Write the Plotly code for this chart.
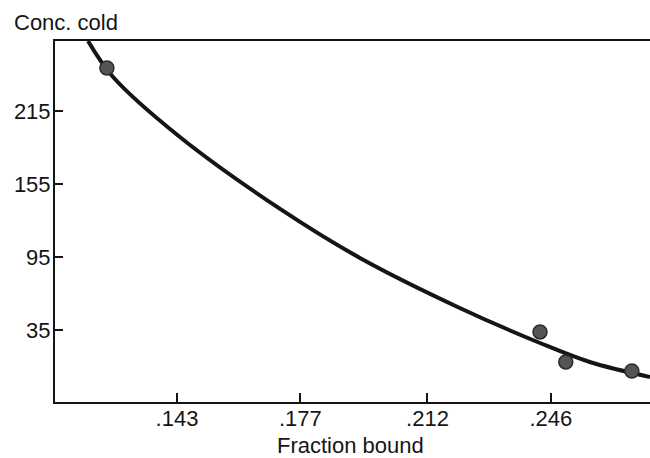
import plotly.graph_objects as go

# Observed data points (Fraction bound, Conc. cold)
point_x = [0.1237, 0.2430, 0.2501, 0.2683]
point_y = [250.3, 33.4, 8.7, 1.3]

# Fitted curve at several positions
curve_x = [0.1185, 0.1254, 0.1438, 0.1714, 0.1934, 0.2209, 0.2430, 0.2567, 0.2733]
curve_y = [272.5, 242.9, 193.6, 134.5, 94.2, 53.1, 24.3, 8.7, -3.6]

x_tick_vals = [0.143, 0.177, 0.212, 0.246]
x_tick_text = [".143", ".177", ".212", ".246"]
y_tick_vals = [35, 95, 155, 215]
y_tick_text = ["35", "95", "155", "215"]

font_family = "Liberation Sans, Arial, Helvetica, sans-serif"
ink = "#151515"

W, H = 650, 458
ML, MR, MT, MB = 55, 0, 41, 56
PW, PH = W - ML - MR, H - MT - MB

fig = go.Figure()
fig.add_trace(go.Scatter(
    x=curve_x, y=curve_y, mode="lines",
    line=dict(color=ink, width=4, shape="spline", smoothing=1.0),
    hoverinfo="skip", showlegend=False,
))
fig.add_trace(go.Scatter(
    x=point_x, y=point_y, mode="markers",
    marker=dict(size=14, color="#555555", line=dict(color="#2a2a2a", width=1.5)),
    showlegend=False, cliponaxis=True,
))

fig.update_layout(
    width=W, height=H,
    margin=dict(l=ML, r=MR, t=MT, b=MB, autoexpand=False),
    paper_bgcolor="white", plot_bgcolor="white",
    font=dict(family=font_family, size=22, color=ink),
    xaxis=dict(
        range=[0.1094, 0.2733],
        tickvals=x_tick_vals, ticktext=x_tick_text,
        ticks="inside", ticklen=9, tickwidth=2, tickcolor=ink,
        showline=True, linecolor=ink, linewidth=2, mirror=True,
        showgrid=False, zeroline=False, automargin=False,
        tickfont=dict(size=22, color=ink),
        ticklabelstandoff=-4,
    ),
    yaxis=dict(
        range=[-24.2, 272.5],
        tickvals=y_tick_vals, ticktext=y_tick_text,
        ticks="inside", ticklen=8, tickwidth=2, tickcolor=ink,
        showline=True, linecolor=ink, linewidth=2, mirror=False,
        showgrid=False, zeroline=False, automargin=False,
        tickfont=dict(size=22, color=ink),
        ticklabelstandoff=-2,
    ),
)

def px_to_paper(px, py):
    return (px - ML) / PW, (H - MB - py) / PH

ax, ay = px_to_paper(12, 22)
fig.add_annotation(
    text="Conc. cold", xref="paper", yref="paper", x=ax, y=ay,
    xanchor="left", yanchor="middle", showarrow=False,
    font=dict(size=22, color=ink),
)
tx, ty = px_to_paper(350, 445)
fig.add_annotation(
    text="Fraction bound", xref="paper", yref="paper", x=tx, y=ty,
    xanchor="center", yanchor="middle", showarrow=False,
    font=dict(size=22, color=ink),
)

fig.write_html(
    "out.html",
    config={"displayModeBar": False, "staticPlot": True},
    post_script="document.body.style.margin='0';document.body.style.overflow='hidden';",
)
